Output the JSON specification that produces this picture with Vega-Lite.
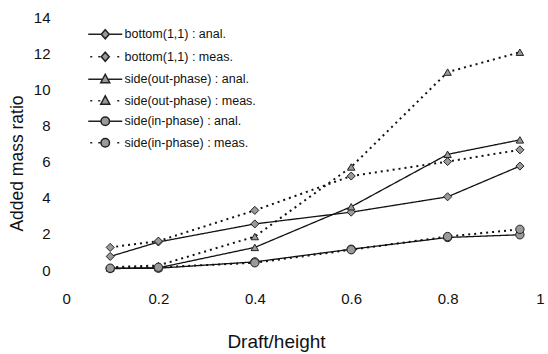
{
  "$schema": "https://vega.github.io/schema/vega-lite/v6.json",
  "width": 482,
  "height": 253,
  "autosize": "none",
  "padding": {"left": 62, "top": 17, "right": 4, "bottom": 84},
  "background": "white",
  "config": {
    "view": {"stroke": null},
    "axis": {"labelFont": "Liberation Sans", "titleFont": "Liberation Sans", "labelColor": "#111", "titleColor": "#111", "grid": false, "domain": false, "ticks": false, "labelFontSize": 15, "titleFontWeight": "normal"}
  },
  "data": {"values": [
    {"series": "bottom(1,1) : anal.", "kind": "anal", "x": 0.1, "y": 0.75},
    {"series": "bottom(1,1) : anal.", "kind": "anal", "x": 0.2, "y": 1.55},
    {"series": "bottom(1,1) : anal.", "kind": "anal", "x": 0.4, "y": 2.55},
    {"series": "bottom(1,1) : anal.", "kind": "anal", "x": 0.6, "y": 3.2},
    {"series": "bottom(1,1) : anal.", "kind": "anal", "x": 0.8, "y": 4.05},
    {"series": "bottom(1,1) : anal.", "kind": "anal", "x": 0.95, "y": 5.75},
    {"series": "bottom(1,1) : meas.", "kind": "meas", "x": 0.1, "y": 1.25},
    {"series": "bottom(1,1) : meas.", "kind": "meas", "x": 0.2, "y": 1.6},
    {"series": "bottom(1,1) : meas.", "kind": "meas", "x": 0.4, "y": 3.3},
    {"series": "bottom(1,1) : meas.", "kind": "meas", "x": 0.6, "y": 5.2},
    {"series": "bottom(1,1) : meas.", "kind": "meas", "x": 0.8, "y": 6.0},
    {"series": "bottom(1,1) : meas.", "kind": "meas", "x": 0.95, "y": 6.65},
    {"series": "side(out-phase) : anal.", "kind": "anal", "x": 0.1, "y": 0.1},
    {"series": "side(out-phase) : anal.", "kind": "anal", "x": 0.2, "y": 0.12},
    {"series": "side(out-phase) : anal.", "kind": "anal", "x": 0.4, "y": 1.25},
    {"series": "side(out-phase) : anal.", "kind": "anal", "x": 0.6, "y": 3.5},
    {"series": "side(out-phase) : anal.", "kind": "anal", "x": 0.8, "y": 6.4},
    {"series": "side(out-phase) : anal.", "kind": "anal", "x": 0.95, "y": 7.2},
    {"series": "side(out-phase) : meas.", "kind": "meas", "x": 0.1, "y": 0.15},
    {"series": "side(out-phase) : meas.", "kind": "meas", "x": 0.2, "y": 0.25},
    {"series": "side(out-phase) : meas.", "kind": "meas", "x": 0.4, "y": 1.85},
    {"series": "side(out-phase) : meas.", "kind": "meas", "x": 0.6, "y": 5.7},
    {"series": "side(out-phase) : meas.", "kind": "meas", "x": 0.8, "y": 10.95},
    {"series": "side(out-phase) : meas.", "kind": "meas", "x": 0.95, "y": 12.05},
    {"series": "side(in-phase) : anal.", "kind": "anal", "x": 0.1, "y": 0.08},
    {"series": "side(in-phase) : anal.", "kind": "anal", "x": 0.2, "y": 0.1},
    {"series": "side(in-phase) : anal.", "kind": "anal", "x": 0.4, "y": 0.45},
    {"series": "side(in-phase) : anal.", "kind": "anal", "x": 0.6, "y": 1.15},
    {"series": "side(in-phase) : anal.", "kind": "anal", "x": 0.8, "y": 1.8},
    {"series": "side(in-phase) : anal.", "kind": "anal", "x": 0.95, "y": 1.95},
    {"series": "side(in-phase) : meas.", "kind": "meas", "x": 0.1, "y": 0.1},
    {"series": "side(in-phase) : meas.", "kind": "meas", "x": 0.2, "y": 0.15},
    {"series": "side(in-phase) : meas.", "kind": "meas", "x": 0.4, "y": 0.4},
    {"series": "side(in-phase) : meas.", "kind": "meas", "x": 0.6, "y": 1.12},
    {"series": "side(in-phase) : meas.", "kind": "meas", "x": 0.8, "y": 1.85},
    {"series": "side(in-phase) : meas.", "kind": "meas", "x": 0.95, "y": 2.25}
  ]},
  "encoding": {
    "x": {"field": "x", "type": "quantitative", "scale": {"domain": [0, 1], "nice": false}, "axis": {"title": "Draft/height", "values": [0, 0.2, 0.4, 0.6, 0.8, 1], "format": "~g", "labelPadding": 21, "titlePadding": 26, "titleFontSize": 19, "titleX": 214}},
    "y": {"field": "y", "type": "quantitative", "scale": {"domain": [0, 14], "nice": false}, "axis": {"title": "Added mass ratio", "values": [0, 2, 4, 6, 8, 10, 12, 14], "labelPadding": 12, "titlePadding": 7, "titleFontSize": 17.5, "titleY": 146}}
  },
  "layer": [
    {
      "mark": {"type": "line", "color": "#111"},
      "encoding": {
        "detail": {"field": "series", "type": "nominal"},
        "strokeDash": {"field": "kind", "type": "nominal", "legend": null, "scale": {"domain": ["anal", "meas"], "range": [[1, 0], [2, 4]]}},
        "strokeWidth": {"field": "kind", "type": "nominal", "legend": null, "scale": {"domain": ["anal", "meas"], "range": [1.3, 2]}}
      }
    },
    {
      "transform": [{"filter": "indexof(datum.series, 'bottom') == 0"}],
      "mark": {"type": "point", "shape": "diamond", "filled": true, "fill": "#9a9a9a", "fillOpacity": 1, "stroke": "#222", "strokeWidth": 1, "opacity": 1, "size": 65}
    },
    {
      "transform": [{"filter": "indexof(datum.series, 'out-phase') >= 0"}],
      "mark": {"type": "point", "shape": "triangle-up", "filled": true, "fill": "#9a9a9a", "fillOpacity": 1, "stroke": "#222", "strokeWidth": 1, "opacity": 1, "size": 55}
    },
    {
      "transform": [{"filter": "indexof(datum.series, 'in-phase') >= 0"}],
      "mark": {"type": "point", "shape": "circle", "filled": true, "fill": "#9a9a9a", "fillOpacity": 1, "stroke": "#222", "strokeWidth": 1, "opacity": 1, "size": 70}
    },
    {
      "mark": {"type": "point", "filled": true, "fill": "#9a9a9a", "fillOpacity": 1, "stroke": "#222", "strokeWidth": 1.3, "opacity": 1, "size": 0},
      "encoding": {
        "shape": {"field": "series", "type": "nominal",
          "scale": {"domain": ["bottom(1,1) : anal.", "bottom(1,1) : meas.", "side(out-phase) : anal.", "side(out-phase) : meas.", "side(in-phase) : anal.", "side(in-phase) : meas."],
            "range": [
              "M-3.4,0H-0.8M0.8,0H3.4M0,-0.9L0.8,0L0,0.9L-0.8,0Z",
              "M-3,0H-2.6M-1.4,0H-1M2.4,0H2.8M0,-0.9L0.8,0L0,0.9L-0.8,0Z",
              "M-3.4,0H-0.6M0.6,0H3.4M0,-1L0.9,0.7L-0.9,0.7Z",
              "M-3,0H-2.6M-1.4,0H-1M2.4,0H2.8M0,-1L0.9,0.7L-0.9,0.7Z",
              "M-3.4,0H-0.85M0.85,0H3.4M-0.85,0A0.85,0.85 0 1,0 0.85,0A0.85,0.85 0 1,0 -0.85,0Z",
              "M-3,0H-2.6M-1.4,0H-1M2.4,0H2.8M-0.85,0A0.85,0.85 0 1,0 0.85,0A0.85,0.85 0 1,0 -0.85,0Z"
            ]},
          "legend": {
            "title": null, "orient": "none", "legendX": 37, "legendY": 11,
            "labelFont": "Liberation Sans", "labelFontSize": 12.5, "labelColor": "#111", "labelOffset": 13,
            "symbolSize": 100, "rowPadding": 6.5, "padding": 0,
            "encode": {"symbols": {
              "size": {"value": 100},
              "strokeWidth": {"value": 1.3}
            }}
          }
        }
      }
    }
  ]
}
